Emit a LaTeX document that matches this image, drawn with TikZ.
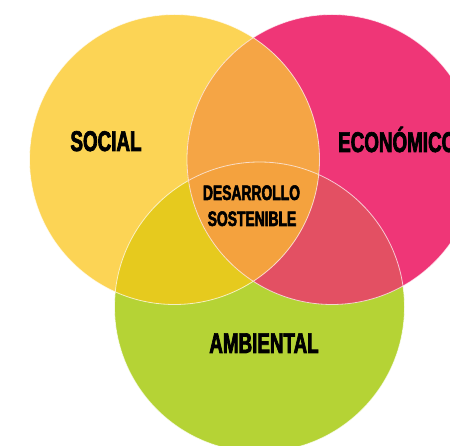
\documentclass[tikz,border=0pt]{standalone}
\usepackage{fontspec}
\usepackage{tikz}
\newfontfamily\vennfont[FakeStretch=0.66,FakeBold=2.5,UprightFont=* Bold]{Liberation Sans}
\definecolor{socialcol}{HTML}{FCD455}
\definecolor{ecocol}{HTML}{EF3677}
\definecolor{ambcol}{HTML}{B5D335}
\definecolor{soceco}{HTML}{F5A545}
\definecolor{socamb}{HTML}{E6CA1E}
\definecolor{ecoamb}{HTML}{E35063}
\definecolor{allcol}{HTML}{F4A23E}
\tikzset{
	bigtext/.style={font=\vennfont\fontsize{28.5}{30}\selectfont, inner sep=0pt, anchor=base},
	smalltext/.style={font=\vennfont\fontsize{21}{24}\selectfont, inner sep=0pt, anchor=base},
	rim/.style={draw=white, draw opacity=0.7, line width=0.8pt}
}

\begin{document}
\begin{tikzpicture}[x=1pt,y=-1pt]
	\useasboundingbox (0,0) rectangle (450,446);
	\clip (0,0) rectangle (450,446);
	\coordinate (S) at (174.5,159.5);
	\coordinate (E) at (332,159.5);
	\coordinate (A) at (259.5,307);
%
	\fill[ambcol] (A) circle (145pt);
	\fill[socialcol] (S) circle (145pt);
	\fill[ecocol] (E) circle (145pt);
	\begin{scope}
		\clip (S) circle (145pt);
		\fill[soceco] (E) circle (145pt);
		\fill[socamb] (A) circle (145pt);
		\clip (E) circle (145pt);
		\fill[allcol] (A) circle (145pt);
	\end{scope}
	\begin{scope}
		\clip (E) circle (145pt);
		\clip (A) circle (145pt);
		\fill[ecoamb] (0,0) rectangle (450,446);
		\clip (S) circle (145pt);
		\fill[allcol] (A) circle (145pt);
	\end{scope}
	\path[rim] (S) circle (145pt) (E) circle (145pt) (A) circle (145pt);
%
	\node[bigtext] (social) at (106,151) {SOCIAL};
	\node[bigtext, anchor=base west] (economico) at (338,152) {ECONÓMICO};
	\node[bigtext] (ambiental) at (264,353) {AMBIENTAL};
	\node[smalltext] (desarrollo) at (251.5,200) {DESARROLLO};
	\node[smalltext] (sostenible) at (252,226) {SOSTENIBLE};
\end{tikzpicture}
\end{document}
